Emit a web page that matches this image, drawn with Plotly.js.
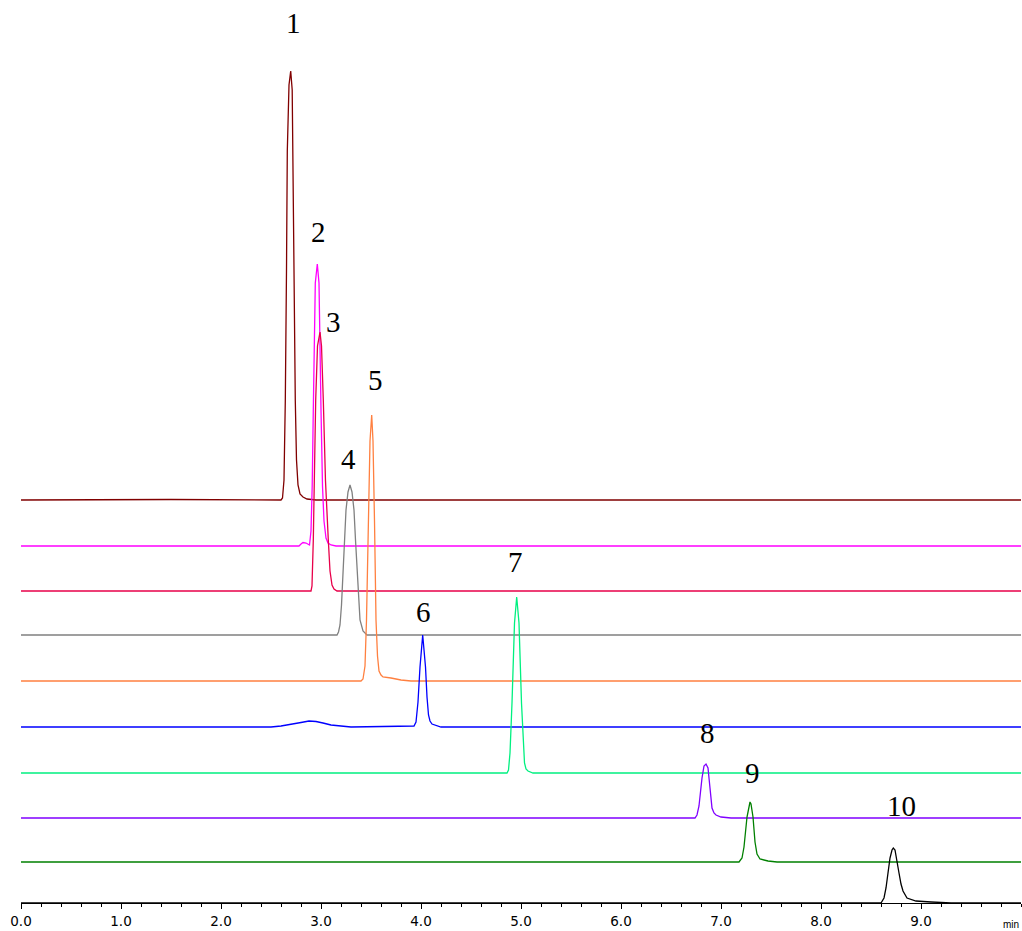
<!DOCTYPE html>
<html>
<head>
<meta charset="utf-8">
<script src="https://cdn.plot.ly/plotly-3.0.1.min.js"></script>
<style>html,body{margin:0;padding:0;background:#fff;}#chart{width:1022px;height:931px;}</style>
</head>
<body>
<div id="chart"></div>
<script>
// Tick labels (minutes)
const tickValues = [0, 1, 2, 3, 4, 5, 6, 7, 8, 9];
const tickLabels = ["0.0", "1.0", "2.0", "3.0", "4.0", "5.0", "6.0", "7.0", "8.0", "9.0"];

// Peak labels
const peakNames = ["1", "2", "3", "4", "5", "6", "7", "8", "9", "10"];

// Baseline offsets of each stacked chromatogram (signal units)
const offsets = [403, 357, 312, 268, 222, 176, 130, 85, 41, 0];

// Chromatogram signals: time (min) and signal above own baseline
const t1 = [0, 1.5, 2.60, 2.615, 2.63, 2.643, 2.655, 2.663, 2.68, 2.697, 2.712, 2.717, 2.73, 2.743, 2.755, 2.77, 2.79, 2.82, 2.86, 2.95, 10];
const s1 = [0, 0.5, 0, 2, 20, 99, 230, 349, 415, 429, 410, 349, 220, 99, 40, 15, 6, 3, 1, 0, 0];

const t2 = [0, 2.78, 2.80, 2.82, 2.85, 2.875, 2.885, 2.90, 2.912, 2.923, 2.943, 2.963, 2.98, 3.00, 3.015, 3.03, 3.05, 3.07, 3.10, 3.15, 10];
const s2 = [0, 0, 2, 3.5, 3, 1.5, 1, 15, 60, 136, 263, 282, 263, 136, 60, 25, 8, 3, 1, 0, 0];

const t3 = [0, 2.90, 2.91, 2.923, 2.947, 2.965, 2.99, 3.005, 3.023, 3.045, 3.073, 3.09, 3.11, 3.13, 3.16, 10];
const s3 = [0, 0, 5, 51, 191, 245, 259, 245, 191, 110, 51, 20, 6, 2, 0, 0];

const t4 = [0, 3.16, 3.175, 3.19, 3.205, 3.22, 3.235, 3.25, 3.27, 3.29, 3.31, 3.33, 3.345, 3.36, 3.375, 3.39, 3.42, 3.46, 10];
const s4 = [0, 0, 3, 10, 30, 60, 95, 125, 143, 150, 143, 125, 95, 65, 35, 15, 4, 0, 0];

const t5 = [0, 3.40, 3.42, 3.44, 3.455, 3.475, 3.49, 3.507, 3.52, 3.535, 3.55, 3.565, 3.58, 3.60, 3.62, 3.70, 3.80, 3.90, 10];
const s5 = [0, 0, 2, 15, 61, 170, 240, 266, 240, 160, 61, 25, 10, 6, 4, 3, 1, 0, 0];

const t6 = [0, 2.5, 2.6, 2.7, 2.8, 2.88, 2.95, 3.02, 3.1, 3.2, 3.3, 3.93, 3.95, 3.97, 3.99, 4.017, 4.045, 4.06, 4.075, 4.09, 4.11, 4.2, 10];
const s6 = [0, 0, 1, 2.5, 4.5, 6, 5.5, 4, 2, 1, 0, 1, 5, 25, 60, 92, 60, 30, 12, 6, 3, 0, 0];

const t7 = [0, 4.86, 4.875, 4.89, 4.91, 4.935, 4.957, 4.98, 5.005, 5.02, 5.035, 5.05, 5.07, 5.12, 10];
const s7 = [0, 0, 3, 20, 70, 150, 176, 150, 70, 30, 10, 4, 2, 0, 0];

const t8 = [0, 6.74, 6.76, 6.78, 6.81, 6.83, 6.85, 6.87, 6.89, 6.91, 6.93, 6.95, 7.0, 7.1, 10];
const s8 = [0, 0, 3, 12, 40, 52, 54, 50, 30, 10, 5, 3, 1, 0, 0];

const t9 = [0, 7.18, 7.21, 7.23, 7.26, 7.28, 7.29, 7.30, 7.32, 7.34, 7.36, 7.39, 7.47, 7.56, 10];
const s9 = [0, 0, 4, 15, 45, 58, 60, 58, 45, 20, 8, 3, 1, 0, 0];

const t10 = [0, 8.60, 8.63, 8.65, 8.67, 8.69, 8.71, 8.723, 8.74, 8.76, 8.78, 8.80, 8.82, 8.86, 8.95, 9.1, 9.3, 10];
const s10 = [0, 0, 5, 15, 30, 45, 53, 55, 53, 43, 30, 19, 12, 5, 2, 1, 0, 0];

const times = [t1, t2, t3, t4, t5, t6, t7, t8, t9, t10];
const signals = [s1, s2, s3, s4, s5, s6, s7, s8, s9, s10];

// Peak label anchor positions (min, signal units)
const labelX = [2.723, 2.973, 3.123, 3.273, 3.54, 4.023, 4.94, 6.863, 7.317, 8.807];
const labelY = [880, 671, 581, 444, 523, 291, 341, 170, 130, 97];

const colors = ["#800000", "#ff00ff", "#e8004a", "#808080", "#ff8040", "#0000ff", "#00f080", "#8000ff", "#008000", "#000000"];

const traces = times.map((t, i) => ({
  x: t,
  y: signals[i].map(v => v + offsets[i]),
  type: "scatter",
  mode: "lines",
  line: {color: colors[i], width: 1.3},
  hoverinfo: "skip",
  showlegend: false
}));

const annotations = peakNames.map((name, i) => ({
  x: labelX[i], y: labelY[i], xref: "x", yref: "y",
  text: name, showarrow: false,
  xanchor: "center", yanchor: "middle",
  font: {family: "Liberation Serif, Times New Roman, serif", size: 29, color: "#000"}
}));
annotations.push({
  x: 9.9, y: -0.024, xref: "x", yref: "paper",
  text: "min", showarrow: false, xanchor: "center", yanchor: "middle",
  font: {family: "Liberation Sans, Arial, sans-serif", size: 10, color: "#000"}
});

const layout = {
  width: 1022, height: 931,
  margin: {l: 21, r: 1, t: 0, b: 28, pad: 0},
  paper_bgcolor: "#fff", plot_bgcolor: "#fff",
  showlegend: false,
  xaxis: {
    range: [0, 10],
    showline: true, linecolor: "#000", linewidth: 1,
    ticks: "outside", ticklen: 5, tickwidth: 1, tickcolor: "#000",
    tickmode: "array", tickvals: tickValues, ticktext: tickLabels,
    ticklabelstandoff: 1,
    minor: {dtick: 0.2, ticks: "outside", ticklen: 3, tickwidth: 1, tickcolor: "#000", showgrid: false},
    showgrid: false, zeroline: false,
    tickfont: {family: "DejaVu Sans, Verdana, sans-serif", size: 13.5, color: "#000"}
  },
  yaxis: {range: [0, 903], visible: false, showgrid: false, zeroline: false, fixedrange: true},
  annotations: annotations
};

Plotly.newPlot("chart", traces, layout, {displayModeBar: false, staticPlot: true});
</script>
</body>
</html>
